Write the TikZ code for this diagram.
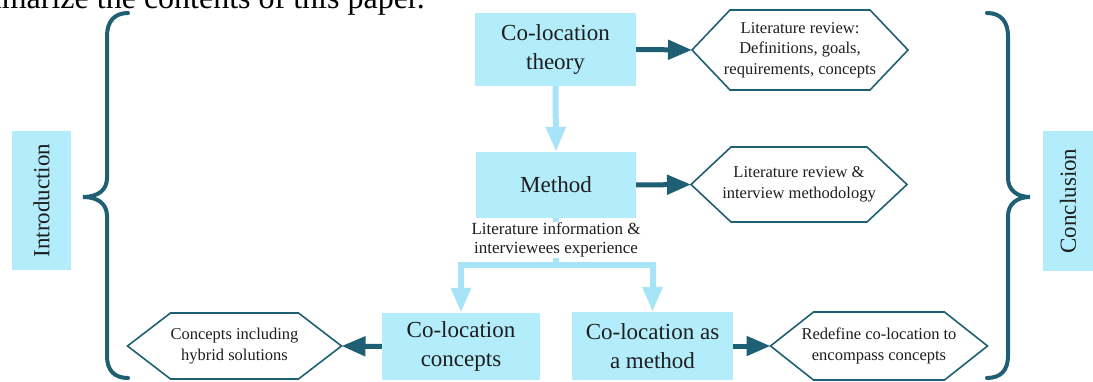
\documentclass[tikz,border=0pt]{standalone}
\usepackage{fontspec}
\setmainfont{Liberation Serif}
\usetikzlibrary{arrows.meta,calc}

\definecolor{boxfill}{HTML}{B3ECFB}
\definecolor{flowline}{HTML}{A8E4F7}
\definecolor{darkteal}{HTML}{1E5F73}
\definecolor{inktext}{HTML}{1E1E1E}

\tikzset{
  stage/.style={fill=boxfill, draw=none, align=center, text=inktext,
    font=\fontsize{23}{29}\selectfont, inner sep=0pt},
  sidebox/.style={stage, rotate=90},
  hextext/.style={align=center, text=inktext, inner sep=0pt,
    font=\fontsize{16.5}{20.5}\selectfont},
  hexline/.style={draw=darkteal, line width=1.6pt, line join=miter},
  outarrow/.style={draw=darkteal, line width=5pt, -{Triangle[length=24pt,width=19pt]}},
  flowarrow/.style={draw=flowline, line width=6pt, -{Triangle[length=25pt,width=19pt]}},
  flowstem/.style={draw=flowline, line width=6pt},
  brace/.style={draw=darkteal, line width=4pt, line cap=round},
}

% hexagonal frame around a text node:
% #1 node name, #2 half width of the flat edges, #3 half height, #4 depth of the points
\newcommand\hexframe[4]{%
  \draw[hexline] ($(#1)+(-#2,-#3)$) -- ($(#1)+(#2,-#3)$)
    -- ($(#1)+(#2+#4,0)$) coordinate (#1-r)
    -- ($(#1)+(#2,#3)$) -- ($(#1)+(-#2,#3)$)
    -- ($(#1)+(-#2-#4,0)$) coordinate (#1-l) -- cycle;}

\begin{document}
\begin{tikzpicture}[x=1pt,y=-1pt]
\useasboundingbox (0,0) rectangle (1093,382);
\clip (0,0) rectangle (1093,382);

% running text above the figure
\node[anchor=base east, inner sep=0pt, font=\fontsize{32}{36}\selectfont] (caption)
  at (425,9) {summarize the contents of this paper.};

% side labels
\node[sidebox, minimum width=139pt, minimum height=59pt] (intro) at (41.5,200.5) {Introduction};
\node[sidebox, minimum width=140pt, minimum height=50pt] (concl) at (1068,201) {Conclusion};

% braces
\draw[brace] (128,13) .. controls (114,13) and (107,22) .. (107,36) -- (107,178)
  .. controls (107,190) and (98,197) .. (83,197)
  .. controls (98,197) and (107,204) .. (107,216) -- (107,356)
  .. controls (107,370) and (114,378) .. (128,378);
\draw[brace] (987,13) .. controls (1001,13) and (1008,22) .. (1008,36) -- (1008,178)
  .. controls (1008,190) and (1017,197) .. (1030,197)
  .. controls (1017,197) and (1008,204) .. (1008,216) -- (1008,356)
  .. controls (1008,370) and (1001,378) .. (987,378);

% main stages
\node[stage, minimum width=161pt, minimum height=73pt] (theory) at (555.5,49.5) {Co-location\\theory};
\node[stage, minimum width=160pt, minimum height=66pt] (method) at (556,185) {Method};
\node[stage, minimum width=158pt, minimum height=67pt] (concepts) at (461,346.5) {Co-location\\concepts};
\node[stage, minimum width=161pt, minimum height=68pt] (asmethod) at (652.5,346) {Co-location as\\a method};

% outcomes
\node[hextext] (h1) at (800,50) {Literature review:\\Definitions, goals,\\requirements, concepts};
\hexframe{h1}{70}{40}{38}
\node[hextext] (h2) at (799,184.5) {Literature review \&\\interview methodology};
\hexframe{h2}{68}{37.5}{40}
\node[hextext] (h3) at (234.5,346) {Concepts including\\hybrid solutions};
\hexframe{h3}{64}{33}{43}
\node[hextext] (h4) at (879,346) {Redefine co-location to\\encompass concepts};
\hexframe{h4}{65.5}{34}{43}

% flow between stages
\draw[flowarrow] (theory.south) -- (method.north);
\coordinate (fork) at (556,265);
\draw[flowstem] (method.south) -- (fork);
\draw[flowarrow] (fork) -| (concepts.north);
\draw[flowarrow] (fork) -| (asmethod.north);
\node[fill=white, inner sep=1pt, align=center, text=inktext,
  font=\fontsize{17}{19}\selectfont] (info) at (556,240)
  {Literature information \&\\interviewees experience};

% stage outcomes
\draw[outarrow] (theory.east) -- (h1-l);
\draw[outarrow] (method.east) -- (h2-l);
\draw[outarrow] (concepts.west) -- (h3-r);
\draw[outarrow] (asmethod.east) -- (h4-l);
\end{tikzpicture}
\end{document}
